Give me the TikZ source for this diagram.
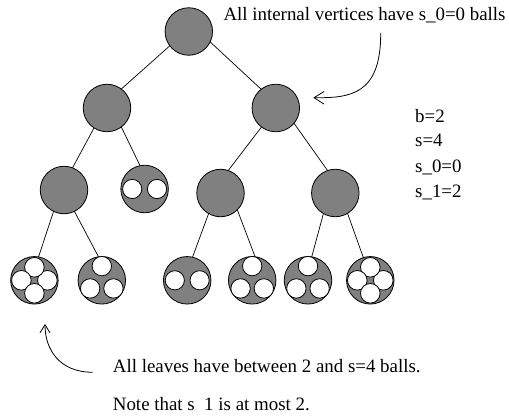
\documentclass[tikz,border=0pt]{standalone}
\usepackage{fontspec}
\setmainfont{Liberation Serif}
\usetikzlibrary{arrows.meta}
\begin{document}
\begin{tikzpicture}[x=1pt,y=-1pt,
  vtx/.style={circle,draw=black,fill=gray,line width=0.8pt,minimum size=47.5pt,inner sep=0pt,outer sep=0pt},
  edge/.style={draw=black,line width=0.7pt},
  ball/.style={draw=black,fill=white,line width=0.8pt},
  lbl/.style={anchor=base west,inner sep=0pt,font=\fontsize{18.9}{22}\selectfont},
  note/.style={draw=black,line width=0.8pt}]
\useasboundingbox (0,0) rectangle (509,417);
% internal vertices
\node[vtx] (r) at (188.8,31.5) {};
\node[vtx] (p) at (107,108) {};
\node[vtx] (q) at (275.8,108) {};
\node[vtx] (a) at (64,190) {};
\node[vtx] (b) at (144.6,189) {};
\node[vtx] (c) at (220.5,193) {};
\node[vtx] (d) at (335.3,193) {};
% leaves
\node[vtx] (l1) at (34.4,280.3) {};
\node[vtx] (l2) at (101.8,280.3) {};
\node[vtx] (l3) at (187.2,280.3) {};
\node[vtx] (l4) at (252.2,280.3) {};
\node[vtx] (l5) at (308,280.3) {};
\node[vtx] (l6) at (370.3,280.3) {};
% balls
\foreach \n in {l1,l6}
  \foreach \ang in {0,90,180,270}
    \draw[ball] ([shift={(\ang:13pt)}]\n.center) circle[radius=9.8pt];
\foreach \n in {l2,l4,l5}
  \foreach \ang in {90,215,325}
    \draw[ball] ([shift={(\ang:14.2pt)}]\n.center) circle[radius=9.7pt];
\foreach \n in {b,l3}
  \foreach \ang in {0,180}
    \draw[ball] ([shift={(\ang:12.4pt)}]\n.center) circle[radius=9.6pt];
% edges
\draw[edge] (r.217) -- (p.53);
\draw[edge] (r.334) -- (q.128);
\draw[edge] (p.237) -- (a.69);
\draw[edge] (p.307) -- (b.101);
\draw[edge] (q.233) -- (c.71);
\draw[edge] (q.320) -- (d.109);
\draw[edge] (a.244) -- (l1.80);
\draw[edge] (a.296) -- (l2.98);
\draw[edge] (c.240) -- (l3.77);
\draw[edge] (c.315) -- (l4.83);
\draw[edge] (d.240) -- (l5.81);
\draw[edge] (d.301) -- (l6.107);
% texts
\node[lbl] (t1) at (223.3,20.7) {All internal vertices have s\_0=0 balls};
\node[lbl] (k1) at (415,122.6) {b=2};
\node[lbl] (k2) at (415,147) {s=4};
\node[lbl] (k3) at (415,172.5) {s\_0=0};
\node[lbl] (k4) at (415,197) {s\_1=2};
\node[lbl] (t2) at (112.7,372.8) {All leaves have between 2 and s=4 balls.};
\node[lbl] (t3) at (112.7,410) {Note that s\phantom{\_}1 is at most 2.};
% annotation arrows
\coordinate (s1) at (380.7,33);
\coordinate (e1) at (313.3,97.7);
\draw[note,-{Straight Barb[length=10pt,width=12.6pt]}] (s1) .. controls (381,95) and (350,98) .. (e1);
\coordinate (s2) at (92.7,372.3);
\coordinate (e2) at (45,324);
\draw[note,-{Straight Barb[length=8pt,width=10pt]}] (s2) .. controls (60,372.3) and (45,350) .. (e2);
\end{tikzpicture}
\end{document}
